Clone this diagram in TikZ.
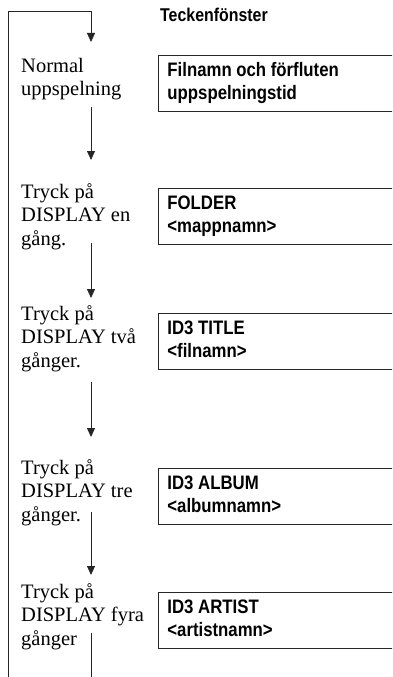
\documentclass[tikz,border=0pt]{standalone}
\usepackage{fontspec}
\setmainfont{Liberation Serif}
\newfontfamily\dispfont{Liberation Sans}[FakeStretch=0.86]
\usetikzlibrary{arrows.meta}
\begin{document}
\begin{tikzpicture}[x=1pt,y=-1pt,
  conn/.style={line width=0.9pt, draw=black!85},
  arr/.style={conn, -{Triangle[length=9pt,width=8pt]}},
  dispbox/.style={draw=black!85, line width=0.9pt, anchor=north west, inner xsep=9pt, inner ysep=0pt, minimum height=56pt, font=\dispfont\bfseries\fontsize{19.5}{22.5}\selectfont},
  lbl/.style={anchor=base west, inner sep=0pt, font=\fontsize{20.5}{23.5}\selectfont},
  head/.style={anchor=base west, inner sep=0pt, font=\dispfont\bfseries\fontsize{18.5}{21}\selectfont}
  ]
\useasboundingbox (0,0) rectangle (392,677);
\clip (0,0) rectangle (392,677);

\node[head] (title) at (160,22) {Teckenfönster};

% display boxes
\node[dispbox] (b1) at (158,55) {\begin{tabular}{@{}p{225pt}@{}}Filnamn och förfluten\\uppspelningstid\end{tabular}};
\node[dispbox] (b2) at (158,188) {\begin{tabular}{@{}p{225pt}@{}}FOLDER\\{<}mappnamn{>}\end{tabular}};
\node[dispbox] (b3) at (158,313) {\begin{tabular}{@{}p{225pt}@{}}ID3 TITLE\\{<}filnamn{>}\end{tabular}};
\node[dispbox] (b4) at (158,468) {\begin{tabular}{@{}p{225pt}@{}}ID3 ALBUM\\{<}albumnamn{>}\end{tabular}};
\node[dispbox] (b5) at (158,592) {\begin{tabular}{@{}p{225pt}@{}}ID3 ARTIST\\{<}artistnamn{>}\end{tabular}};

% step labels
\node[lbl] (l1) at (21,72) {\begin{tabular}[t]{@{}l@{}}Normal\\uppspelning\end{tabular}};
\node[lbl] (l2) at (21,198) {\begin{tabular}[t]{@{}l@{}}Tryck på\\DISPLAY en\\gång.\end{tabular}};
\node[lbl] (l3) at (21,320) {\begin{tabular}[t]{@{}l@{}}Tryck på\\DISPLAY två\\gånger.\end{tabular}};
\node[lbl] (l4) at (21,474) {\begin{tabular}[t]{@{}l@{}}Tryck på\\DISPLAY tre\\gånger.\end{tabular}};
\node[lbl] (l5) at (21,598) {\begin{tabular}[t]{@{}l@{}}Tryck på\\DISPLAY fyra\\gånger\end{tabular}};

% connector coordinates
\coordinate (loopbot) at (8,677);
\coordinate (looptl) at (8,11);
\coordinate (looptr) at (91,11);
\coordinate (a0e) at (91,42);
\coordinate (a1s) at (91,107);
\coordinate (a1e) at (91,160);
\coordinate (a2s) at (91,243);
\coordinate (a2e) at (91,298);
\coordinate (a3s) at (91,382);
\coordinate (a3e) at (91,437);
\coordinate (a4s) at (91,512);
\coordinate (a4e) at (91,575);
\coordinate (a5s) at (91,633);
\coordinate (a5e) at (91,677);

\draw[arr] (loopbot) -- (looptl) -- (looptr) -- (a0e);
\draw[arr] (a1s) -- (a1e);
\draw[arr] (a2s) -- (a2e);
\draw[arr] (a3s) -- (a3e);
\draw[arr] (a4s) -- (a4e);
\draw[conn] (a5s) -- (a5e);
\end{tikzpicture}
\end{document}
